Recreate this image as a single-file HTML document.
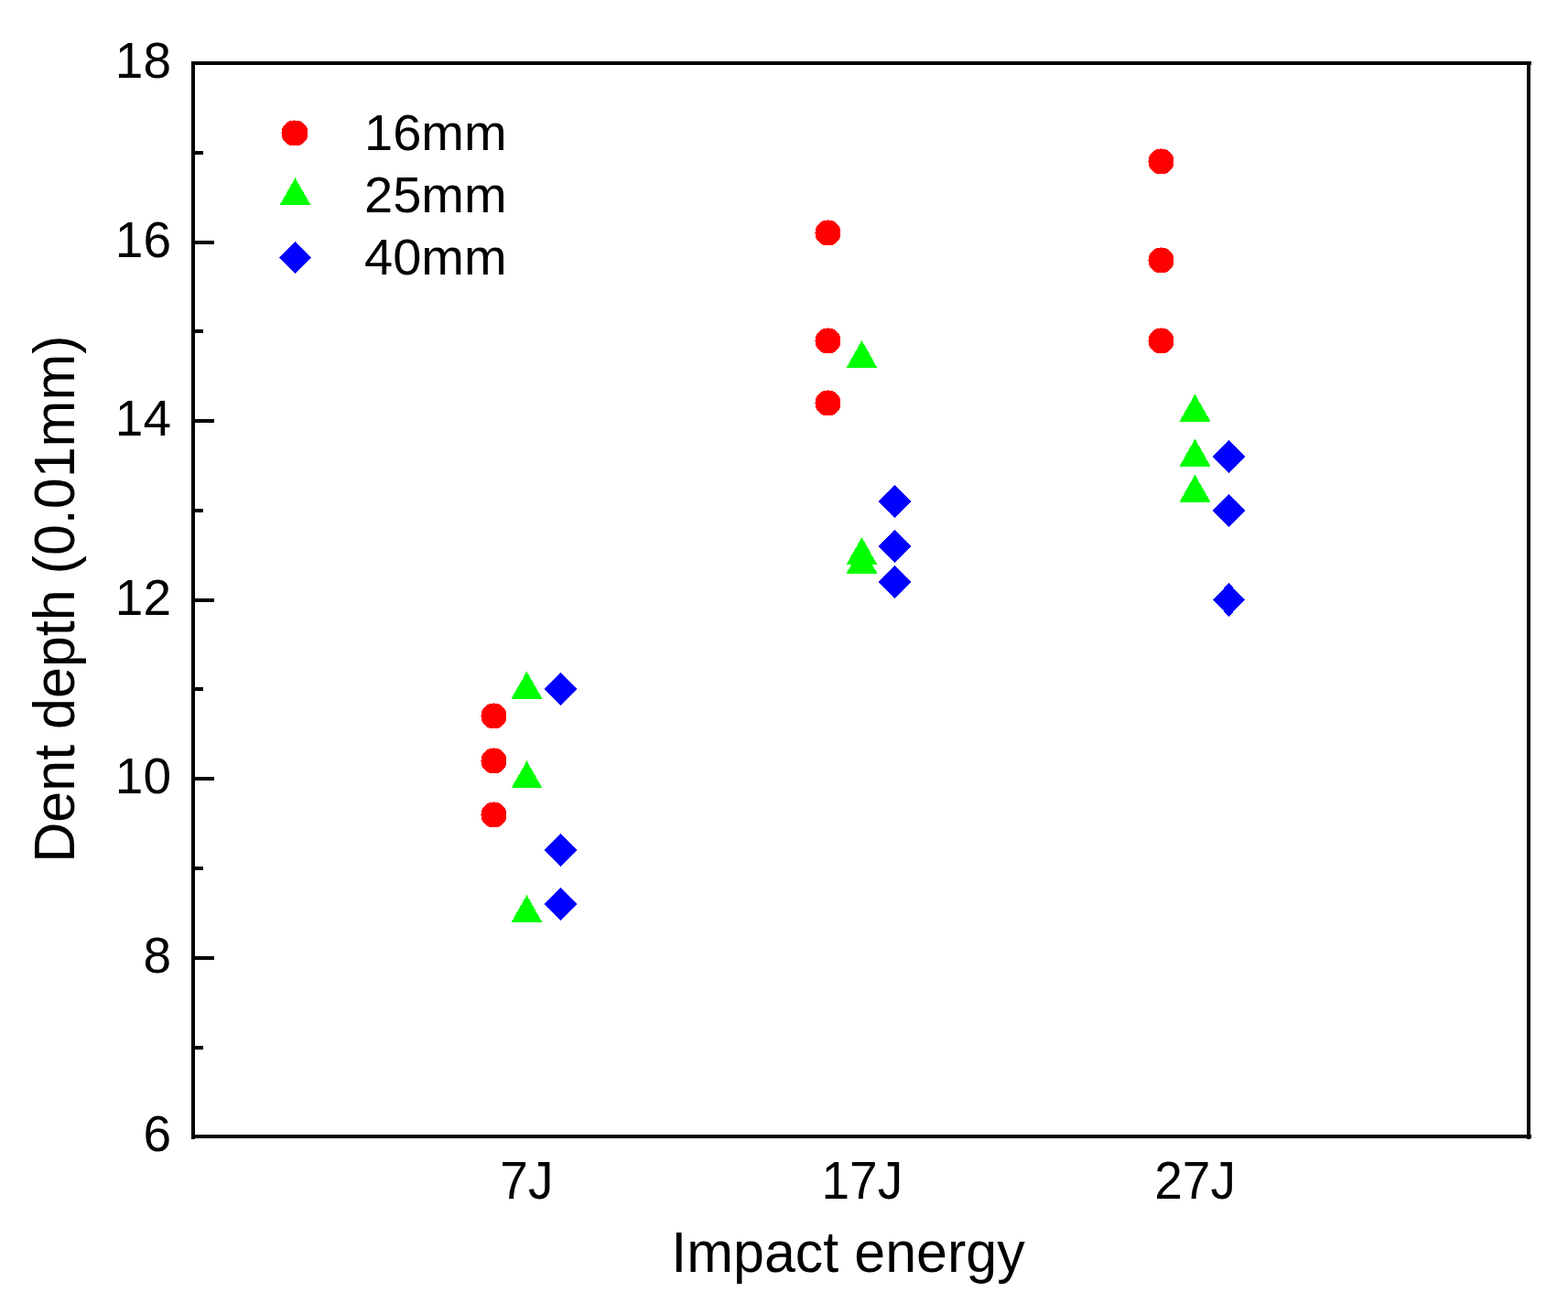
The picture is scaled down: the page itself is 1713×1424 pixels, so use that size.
<!DOCTYPE html>
<html><head><meta charset="utf-8"><title>Dent depth vs Impact energy</title>
<style>
html,body{margin:0;padding:0;background:#fff;overflow:hidden;}
svg{display:block;}
text{font-family:"Liberation Sans",Arial,sans-serif;fill:#000;}
.m circle,.m polygon,.m rect{shape-rendering:crispEdges;}
</style></head><body>
<svg width="1713" height="1424" viewBox="0 0 1713 1424">
<rect x="0" y="0" width="1713" height="1424" fill="#fff"/>
<g fill="#000" shape-rendering="crispEdges">
<rect x="213" y="1240" width="21" height="4"/>
<rect x="213" y="1143" width="9" height="4"/>
<rect x="213" y="1045" width="21" height="4"/>
<rect x="213" y="947" width="9" height="4"/>
<rect x="213" y="849" width="21" height="4"/>
<rect x="213" y="751" width="9" height="4"/>
<rect x="213" y="654" width="21" height="4"/>
<rect x="213" y="556" width="9" height="4"/>
<rect x="213" y="458" width="21" height="4"/>
<rect x="213" y="360" width="9" height="4"/>
<rect x="213" y="263" width="21" height="4"/>
<rect x="213" y="165" width="9" height="4"/>
<rect x="213" y="67" width="21" height="4"/>
<rect x="209" y="67" width="1464" height="4"/>
<rect x="209" y="1240" width="1464" height="4"/>
<rect x="209" y="67" width="4" height="1178"/>
<rect x="1668" y="67" width="4" height="1178"/>
</g>
<g>
<text transform="translate(187,1258) scale(1,1.025)" font-size="55" text-anchor="end">6</text>
<text transform="translate(187,1063) scale(1,1.025)" font-size="55" text-anchor="end">8</text>
<text transform="translate(187,867) scale(1,1.025)" font-size="55" text-anchor="end">10</text>
<text transform="translate(187,672) scale(1,1.025)" font-size="55" text-anchor="end">12</text>
<text transform="translate(187,476) scale(1,1.025)" font-size="55" text-anchor="end">14</text>
<text transform="translate(187,281) scale(1,1.025)" font-size="55" text-anchor="end">16</text>
<text transform="translate(187,85) scale(1,1.025)" font-size="55" text-anchor="end">18</text>
<text transform="translate(575.4,1310) scale(1,1.035)" font-size="55" text-anchor="middle">7J</text>
<text transform="translate(941.8,1310) scale(1,1.035)" font-size="55" text-anchor="middle">17J</text>
<text transform="translate(1305.6,1310) scale(1,1.035)" font-size="55" text-anchor="middle">27J</text>
<text transform="translate(926.5,1390) scale(1,1.03)" font-size="61" text-anchor="middle">Impact energy</text>
<text transform="translate(80.8,654.6) rotate(-90) scale(1,1.03)" font-size="61" text-anchor="middle">Dent depth (0.01mm)</text>
<text transform="translate(398,164.1) scale(1,1.0)" font-size="56">16mm</text>
<text transform="translate(398,232.25) scale(1,1.0)" font-size="56">25mm</text>
<text transform="translate(398,300.4) scale(1,1.0)" font-size="56">40mm</text>
</g>
<g class="m">
<path d="M534,769 534,770 532,770 532,771 531,771 531,772 530,772 530,773 529,773 529,774 528,774 528,775 527,775 527,776 527,776 527,777 526,777 526,778 526,778 526,779 526,779 526,780 526,780 526,781 526,781 526,782 526,782 526,783 526,783 526,784 526,784 526,785 526,785 526,786 526,786 526,787 526,787 526,788 527,788 527,789 527,789 527,790 528,790 528,791 529,791 529,792 530,792 530,793 531,793 531,794 532,794 532,795 534,795 534,796 545,796 545,795 547,795 547,794 548,794 548,793 549,793 549,792 550,792 550,791 551,791 551,790 552,790 552,789 552,789 552,788 553,788 553,787 553,787 553,786 553,786 553,785 553,785 553,784 553,784 553,783 553,783 553,782 553,782 553,781 553,781 553,780 553,780 553,779 553,779 553,778 553,778 553,777 552,777 552,776 552,776 552,775 551,775 551,774 550,774 550,773 549,773 549,772 548,772 548,771 547,771 547,770 545,770 545,769ZM539,768h1v1h-1Z M525,782h1v1h-1Z" fill="#f00"/>
<path d="M534,818 534,819 532,819 532,820 531,820 531,821 530,821 530,822 529,822 529,823 528,823 528,824 527,824 527,825 527,825 527,826 526,826 526,827 526,827 526,828 526,828 526,829 526,829 526,830 526,830 526,831 526,831 526,832 526,832 526,833 526,833 526,834 526,834 526,835 526,835 526,836 526,836 526,837 527,837 527,838 527,838 527,839 528,839 528,840 529,840 529,841 530,841 530,842 531,842 531,843 532,843 532,844 534,844 534,845 545,845 545,844 547,844 547,843 548,843 548,842 549,842 549,841 550,841 550,840 551,840 551,839 552,839 552,838 552,838 552,837 553,837 553,836 553,836 553,835 553,835 553,834 553,834 553,833 553,833 553,832 553,832 553,831 553,831 553,830 553,830 553,829 553,829 553,828 553,828 553,827 553,827 553,826 552,826 552,825 552,825 552,824 551,824 551,823 550,823 550,822 549,822 549,821 548,821 548,820 547,820 547,819 545,819 545,818ZM539,817h1v1h-1Z M525,831h1v1h-1Z" fill="#f00"/>
<path d="M534,877 534,878 532,878 532,879 531,879 531,880 530,880 530,881 529,881 529,882 528,882 528,883 527,883 527,884 527,884 527,885 526,885 526,886 526,886 526,887 526,887 526,888 526,888 526,889 526,889 526,890 526,890 526,891 526,891 526,892 526,892 526,893 526,893 526,894 526,894 526,895 526,895 526,896 527,896 527,897 527,897 527,898 528,898 528,899 529,899 529,900 530,900 530,901 531,901 531,902 532,902 532,903 534,903 534,904 545,904 545,903 547,903 547,902 548,902 548,901 549,901 549,900 550,900 550,899 551,899 551,898 552,898 552,897 552,897 552,896 553,896 553,895 553,895 553,894 553,894 553,893 553,893 553,892 553,892 553,891 553,891 553,890 553,890 553,889 553,889 553,888 553,888 553,887 553,887 553,886 553,886 553,885 552,885 552,884 552,884 552,883 551,883 551,882 550,882 550,881 549,881 549,880 548,880 548,879 547,879 547,878 545,878 545,877ZM539,876h1v1h-1Z M525,890h1v1h-1Z" fill="#f00"/>
<polygon points="575.5,733.740 592.5,763.740 558.5,763.740" fill="#0f0"/>
<polygon points="575.5,831.490 592.5,861.490 558.5,861.490" fill="#0f0"/>
<polygon points="575.5,978.115 592.5,1008.115 558.5,1008.115" fill="#0f0"/>
<polygon points="612.5,735.150 630.25,753.250 612.5,771.350 594.75,753.250" fill="#00f"/>
<polygon points="612.5,911.100 630.25,929.200 612.5,947.300 594.75,929.200" fill="#00f"/>
<polygon points="612.5,969.750 630.25,987.850 612.5,1005.950 594.75,987.850" fill="#00f"/>
<path d="M899,241 899,242 897,242 897,243 896,243 896,244 895,244 895,245 894,245 894,246 893,246 893,247 892,247 892,248 892,248 892,249 891,249 891,250 891,250 891,251 891,251 891,252 891,252 891,253 891,253 891,254 891,254 891,255 891,255 891,256 891,256 891,257 891,257 891,258 891,258 891,259 891,259 891,260 892,260 892,261 892,261 892,262 893,262 893,263 894,263 894,264 895,264 895,265 896,265 896,266 897,266 897,267 899,267 899,268 910,268 910,267 912,267 912,266 913,266 913,265 914,265 914,264 915,264 915,263 916,263 916,262 917,262 917,261 917,261 917,260 918,260 918,259 918,259 918,258 918,258 918,257 918,257 918,256 918,256 918,255 918,255 918,254 918,254 918,253 918,253 918,252 918,252 918,251 918,251 918,250 918,250 918,249 917,249 917,248 917,248 917,247 916,247 916,246 915,246 915,245 914,245 914,244 913,244 913,243 912,243 912,242 910,242 910,241ZM904,240h1v1h-1Z M890,254h1v1h-1Z" fill="#f00"/>
<path d="M899,359 899,360 897,360 897,361 896,361 896,362 895,362 895,363 894,363 894,364 893,364 893,365 892,365 892,366 892,366 892,367 891,367 891,368 891,368 891,369 891,369 891,370 891,370 891,371 891,371 891,372 891,372 891,373 891,373 891,374 891,374 891,375 891,375 891,376 891,376 891,377 891,377 891,378 892,378 892,379 892,379 892,380 893,380 893,381 894,381 894,382 895,382 895,383 896,383 896,384 897,384 897,385 899,385 899,386 910,386 910,385 912,385 912,384 913,384 913,383 914,383 914,382 915,382 915,381 916,381 916,380 917,380 917,379 917,379 917,378 918,378 918,377 918,377 918,376 918,376 918,375 918,375 918,374 918,374 918,373 918,373 918,372 918,372 918,371 918,371 918,370 918,370 918,369 918,369 918,368 918,368 918,367 917,367 917,366 917,366 917,365 916,365 916,364 915,364 915,363 914,363 914,362 913,362 913,361 912,361 912,360 910,360 910,359ZM904,358h1v1h-1Z M890,372h1v1h-1Z" fill="#f00"/>
<path d="M899,427 899,428 897,428 897,429 896,429 896,430 895,430 895,431 894,431 894,432 893,432 893,433 892,433 892,434 892,434 892,435 891,435 891,436 891,436 891,437 891,437 891,438 891,438 891,439 891,439 891,440 891,440 891,441 891,441 891,442 891,442 891,443 891,443 891,444 891,444 891,445 891,445 891,446 892,446 892,447 892,447 892,448 893,448 893,449 894,449 894,450 895,450 895,451 896,451 896,452 897,452 897,453 899,453 899,454 910,454 910,453 912,453 912,452 913,452 913,451 914,451 914,450 915,450 915,449 916,449 916,448 917,448 917,447 917,447 917,446 918,446 918,445 918,445 918,444 918,444 918,443 918,443 918,442 918,442 918,441 918,441 918,440 918,440 918,439 918,439 918,438 918,438 918,437 918,437 918,436 918,436 918,435 917,435 917,434 917,434 917,433 916,433 916,432 915,432 915,431 914,431 914,430 913,430 913,429 912,429 912,428 910,428 910,427ZM904,426h1v1h-1Z M890,440h1v1h-1Z" fill="#f00"/>
<polygon points="941.5,372.065 958.5,402.065 924.5,402.065" fill="#0f0"/>
<polygon points="941.5,587.115 958.5,617.115 924.5,617.115" fill="#0f0"/>
<polygon points="941.5,596.890 958.5,626.890 924.5,626.890" fill="#0f0"/>
<polygon points="977.5,529.875 995.25,547.975 977.5,566.075 959.75,547.975" fill="#00f"/>
<polygon points="977.5,578.750 995.25,596.850 977.5,614.950 959.75,596.850" fill="#00f"/>
<polygon points="977.5,617.850 995.25,635.950 977.5,654.050 959.75,635.950" fill="#00f"/>
<path d="M1263,163 1263,164 1261,164 1261,165 1260,165 1260,166 1259,166 1259,167 1258,167 1258,168 1257,168 1257,169 1256,169 1256,170 1256,170 1256,171 1255,171 1255,172 1255,172 1255,173 1255,173 1255,174 1255,174 1255,175 1255,175 1255,176 1255,176 1255,177 1255,177 1255,178 1255,178 1255,179 1255,179 1255,180 1255,180 1255,181 1255,181 1255,182 1256,182 1256,183 1256,183 1256,184 1257,184 1257,185 1258,185 1258,186 1259,186 1259,187 1260,187 1260,188 1261,188 1261,189 1263,189 1263,190 1274,190 1274,189 1276,189 1276,188 1277,188 1277,187 1278,187 1278,186 1279,186 1279,185 1280,185 1280,184 1281,184 1281,183 1281,183 1281,182 1282,182 1282,181 1282,181 1282,180 1282,180 1282,179 1282,179 1282,178 1282,178 1282,177 1282,177 1282,176 1282,176 1282,175 1282,175 1282,174 1282,174 1282,173 1282,173 1282,172 1282,172 1282,171 1281,171 1281,170 1281,170 1281,169 1280,169 1280,168 1279,168 1279,167 1278,167 1278,166 1277,166 1277,165 1276,165 1276,164 1274,164 1274,163ZM1268,162h1v1h-1Z M1254,176h1v1h-1Z" fill="#f00"/>
<path d="M1263,271 1263,272 1261,272 1261,273 1260,273 1260,274 1259,274 1259,275 1258,275 1258,276 1257,276 1257,277 1256,277 1256,278 1256,278 1256,279 1255,279 1255,280 1255,280 1255,281 1255,281 1255,282 1255,282 1255,283 1255,283 1255,284 1255,284 1255,285 1255,285 1255,286 1255,286 1255,287 1255,287 1255,288 1255,288 1255,289 1255,289 1255,290 1256,290 1256,291 1256,291 1256,292 1257,292 1257,293 1258,293 1258,294 1259,294 1259,295 1260,295 1260,296 1261,296 1261,297 1263,297 1263,298 1274,298 1274,297 1276,297 1276,296 1277,296 1277,295 1278,295 1278,294 1279,294 1279,293 1280,293 1280,292 1281,292 1281,291 1281,291 1281,290 1282,290 1282,289 1282,289 1282,288 1282,288 1282,287 1282,287 1282,286 1282,286 1282,285 1282,285 1282,284 1282,284 1282,283 1282,283 1282,282 1282,282 1282,281 1282,281 1282,280 1282,280 1282,279 1281,279 1281,278 1281,278 1281,277 1280,277 1280,276 1279,276 1279,275 1278,275 1278,274 1277,274 1277,273 1276,273 1276,272 1274,272 1274,271ZM1268,270h1v1h-1Z M1254,284h1v1h-1Z" fill="#f00"/>
<path d="M1263,359 1263,360 1261,360 1261,361 1260,361 1260,362 1259,362 1259,363 1258,363 1258,364 1257,364 1257,365 1256,365 1256,366 1256,366 1256,367 1255,367 1255,368 1255,368 1255,369 1255,369 1255,370 1255,370 1255,371 1255,371 1255,372 1255,372 1255,373 1255,373 1255,374 1255,374 1255,375 1255,375 1255,376 1255,376 1255,377 1255,377 1255,378 1256,378 1256,379 1256,379 1256,380 1257,380 1257,381 1258,381 1258,382 1259,382 1259,383 1260,383 1260,384 1261,384 1261,385 1263,385 1263,386 1274,386 1274,385 1276,385 1276,384 1277,384 1277,383 1278,383 1278,382 1279,382 1279,381 1280,381 1280,380 1281,380 1281,379 1281,379 1281,378 1282,378 1282,377 1282,377 1282,376 1282,376 1282,375 1282,375 1282,374 1282,374 1282,373 1282,373 1282,372 1282,372 1282,371 1282,371 1282,370 1282,370 1282,369 1282,369 1282,368 1282,368 1282,367 1281,367 1281,366 1281,366 1281,365 1280,365 1280,364 1279,364 1279,363 1278,363 1278,362 1277,362 1277,361 1276,361 1276,360 1274,360 1274,359ZM1268,358h1v1h-1Z M1254,372h1v1h-1Z" fill="#f00"/>
<polygon points="1305.5,430.715 1322.5,460.715 1288.5,460.715" fill="#0f0"/>
<polygon points="1305.5,479.590 1322.5,509.590 1288.5,509.590" fill="#0f0"/>
<polygon points="1305.5,518.690 1322.5,548.690 1288.5,548.690" fill="#0f0"/>
<polygon points="1342.5,481.000 1360.25,499.100 1342.5,517.200 1324.75,499.100" fill="#00f"/>
<polygon points="1342.5,539.650 1360.25,557.750 1342.5,575.850 1324.75,557.750" fill="#00f"/>
<polygon points="1342.5,637.400 1360.25,655.500 1342.5,673.600 1324.75,655.500" fill="#00f"/>
<path d="M316,132 316,133 314,133 314,134 313,134 313,135 312,135 312,136 311,136 311,137 310,137 310,138 309,138 309,139 309,139 309,140 308,140 308,141 308,141 308,142 308,142 308,143 308,143 308,144 308,144 308,145 308,145 308,146 308,146 308,147 308,147 308,148 308,148 308,149 308,149 308,150 308,150 308,151 309,151 309,152 309,152 309,153 310,153 310,154 311,154 311,155 312,155 312,156 313,156 313,157 314,157 314,158 316,158 316,159 328,159 328,158 330,158 330,157 331,157 331,156 332,156 332,155 333,155 333,154 334,154 334,153 335,153 335,152 335,152 335,151 336,151 336,150 336,150 336,149 336,149 336,148 336,148 336,147 336,147 336,146 336,146 336,145 336,145 336,144 336,144 336,143 336,143 336,142 336,142 336,141 336,141 336,140 335,140 335,139 335,139 335,138 334,138 334,137 333,137 333,136 332,136 332,135 331,135 331,134 330,134 330,133 328,133 328,132ZM321,131h1v1h-1Z M307,145h1v1h-1Z" fill="#f00"/>
<polygon points="322.5,194.240 339.5,224.240 305.5,224.240" fill="#0f0"/>
<polygon points="322.5,263.900 340.25,281.500 322.5,299.100 304.75,281.500" fill="#00f"/>
</g>
</svg>
</body></html>
